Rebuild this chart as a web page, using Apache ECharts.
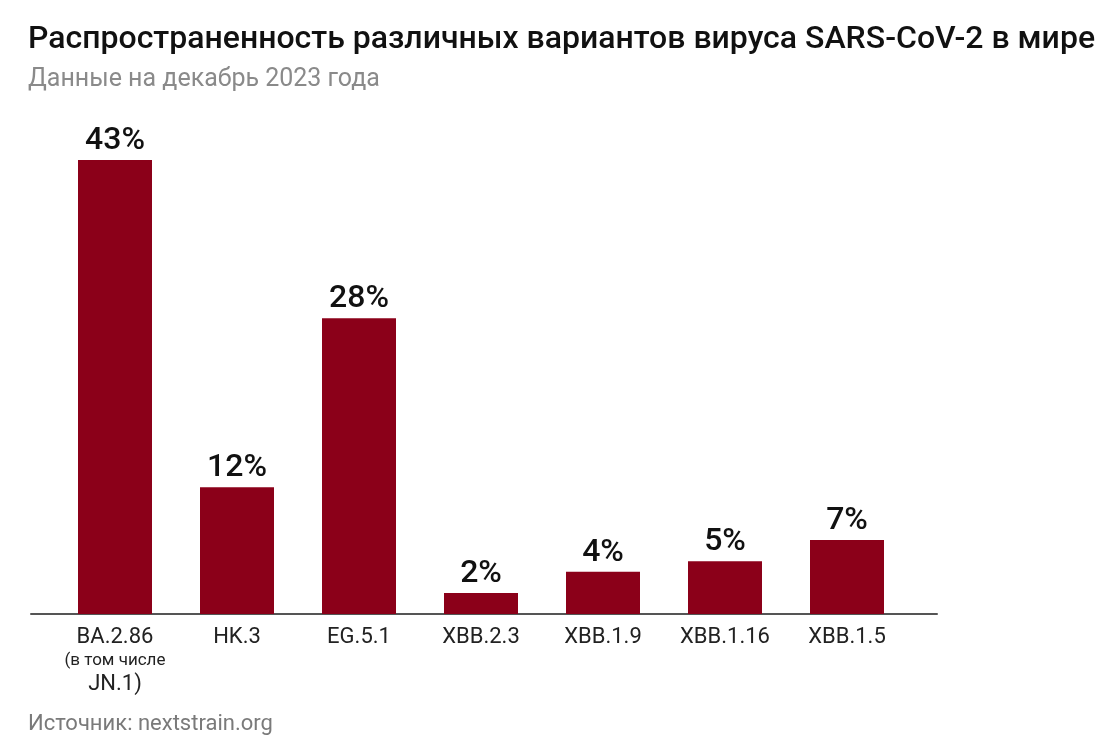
<!DOCTYPE html>
<html><head><meta charset="utf-8">
<script src="https://cdn.jsdelivr.net/npm/echarts@6/dist/echarts.min.js"></script>
<style>html,body{margin:0;padding:0;background:#fff}#c{width:1115px;height:750px}</style>
</head><body><div id="c"></div>
<script>
const categories = ['BA.2.86\n(в том числе\nJN.1)', 'HK.3', 'EG.5.1', 'XBB.2.3', 'XBB.1.9', 'XBB.1.16', 'XBB.1.5'];
const values = [43, 12, 28, 2, 4, 5, 7];
const titleText = 'Распространенность различных вариантов вируса SARS-CoV-2 в мире';
const subtitleText = 'Данные на декабрь 2023 года';
const sourceText = 'Источник: nextstrain.org';

const chart = echarts.init(document.getElementById('c'), null, {renderer: 'canvas'});
const F = 'Roboto, "Noto Sans", sans-serif';
chart.setOption({
  animation: false,
  backgroundColor: '#fff',
  title: [
    {text: titleText, left: 23, top: 19, textStyle: {fontFamily: F, fontSize: 32, fontWeight: 500, color: '#111'}},
    {text: subtitleText, left: 23, top: 62, textStyle: {fontFamily: F, fontSize: 25, fontWeight: 400, color: '#8a8a8a'}},
    {text: sourceText, left: 23, top: 708, textStyle: {fontFamily: F, fontSize: 22, fontWeight: 400, color: '#7a7a7a'}}
  ],
  grid: [
    {left: 54, right: 207, top: 160, bottom: 136},
    {left: 31, right: 178, top: 160, bottom: 136}
  ],
  xAxis: [
    {type: 'category', gridIndex: 0, data: categories,
     axisLine: {show: false}, axisTick: {show: false},
     axisLabel: {interval: 0, margin: 12,
       formatter: function (v) {
         return v.split('\n').map(function (s, i) { return '{' + (i === 1 ? 's' : 'b') + '|' + s + '}'; }).join('\n');
       },
       rich: {
         b: {fontFamily: F, fontSize: 22, color: '#222', lineHeight: 23},
         s: {fontFamily: F, fontSize: 17, color: '#222', lineHeight: 24}
       }}},
    {type: 'category', gridIndex: 1, data: [''],
     axisLine: {show: true, lineStyle: {color: '#555', width: 2}}, axisTick: {show: false}, axisLabel: {show: false}}
  ],
  yAxis: [
    {type: 'value', gridIndex: 0, min: 0, max: 43, show: false, splitLine: {show: false}},
    {type: 'value', gridIndex: 1, min: 0, max: 43, show: false, splitLine: {show: false}}
  ],
  series: [{
    type: 'bar', xAxisIndex: 0, yAxisIndex: 0, data: values, barWidth: 74,
    itemStyle: {color: '#8b0019'},
    label: {show: true, position: 'top', distance: 3, formatter: '{c}%', fontFamily: F, fontSize: 32, fontWeight: 500, color: '#111'}
  }]
});
</script></body></html>
